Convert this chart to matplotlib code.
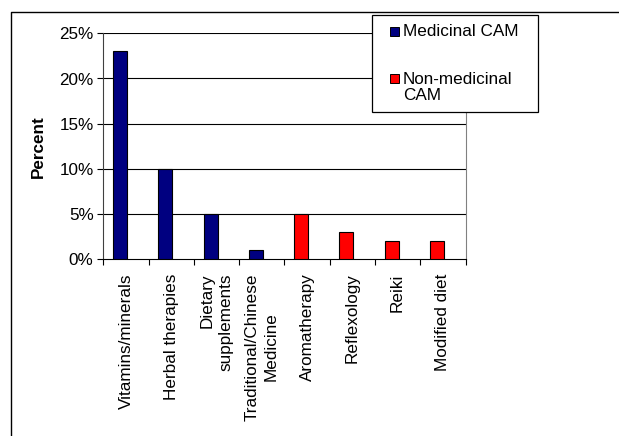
import matplotlib
matplotlib.use("Agg")
import matplotlib.pyplot as plt
from matplotlib.patches import Rectangle
from matplotlib.lines import Line2D
import numpy as np

categories = ["Vitamins/minerals", "Herbal therapies", "Dietary\nsupplements",
              "Traditional/Chinese\nMedicine", "Aromatherapy", "Reflexology",
              "Reiki", "Modified diet"]
values = [23, 10, 5, 1, 5, 3, 2, 2]
groups = ["Medicinal CAM", "Medicinal CAM", "Medicinal CAM", "Medicinal CAM",
          "Non-medicinal CAM", "Non-medicinal CAM", "Non-medicinal CAM", "Non-medicinal CAM"]
legend_labels = ["Medicinal CAM", "Non-medicinal\nCAM"]
group_keys = ["Medicinal CAM", "Non-medicinal CAM"]
colors = {"Medicinal CAM": "#000080", "Non-medicinal CAM": "#FF0000"}
yticks = [0, 5, 10, 15, 20, 25]
ytick_labels = ["0%", "5%", "10%", "15%", "20%", "25%"]

W, H = 619, 436
FS = 12.3
plt.rcParams['font.family'] = ['Liberation Sans', 'DejaVu Sans']
fig = plt.figure(figsize=(W / 100, H / 100), dpi=100)

def fx(px):
    return px / W

def fy(py):
    return 1 - py / H

ax = fig.add_axes([fx(103.3), fy(259.3), fx(465.5) - fx(103.3), fy(33.3) - fy(259.3)])

x = np.arange(len(categories))
ax.bar(x - 0.13, values, width=0.31, color=[colors[g] for g in groups],
       edgecolor="black", linewidth=0.8, zorder=3)

ax.set_xlim(-0.5, len(categories) - 0.5)
ax.set_ylim(0, 25)
ax.set_yticks(yticks)
ax.set_yticklabels(ytick_labels, fontsize=FS)
for yv in yticks[1:]:
    ax.axhline(yv, color="black", linewidth=0.8, zorder=1)

ax.set_xticks(x)
ax.set_xticklabels(categories, rotation=90, fontsize=FS, va="top", ha="center")
ax.tick_params(axis="x", which="major", length=0, pad=10)
ax.set_xticks(np.arange(-0.5, len(categories), 1.0), minor=True)
ax.tick_params(axis="x", which="minor", length=4, width=0.8, direction="out", color="black")
ax.tick_params(axis="y", length=4, width=0.8, direction="out", pad=3)

for lbl in ax.get_xticklabels():
    if lbl.get_text().startswith("Dietary"):
        lbl.set_multialignment("right")
    else:
        lbl.set_multialignment("center")
    lbl.set_linespacing(1.3)

ax.spines["top"].set_visible(False)
ax.spines["right"].set_color("#808080")
ax.spines["right"].set_linewidth(0.8)
ax.spines["left"].set_color("#404040")
ax.spines["left"].set_linewidth(0.8)
ax.spines["bottom"].set_linewidth(0.8)

ax.set_ylabel("Percent", fontsize=FS, fontweight="bold", labelpad=10)

# outer border
fig.add_artist(Line2D([fx(10.5), fx(10.5), fx(619)], [fy(440), fy(12), fy(12)],
                      transform=fig.transFigure, color="black", linewidth=1.0))

# legend box
fig.add_artist(Rectangle((fx(371.7), fy(111.7)), fx(538) - fx(371.7), fy(15) - fy(111.7),
                         transform=fig.transFigure, facecolor="white", edgecolor="black",
                         linewidth=0.9, zorder=5))
marker_y = [31.5, 79.0]
text_y = [31.5, 87.5]
for key, lab, my, ty in zip(group_keys, legend_labels, marker_y, text_y):
    fig.add_artist(Rectangle((fx(390), fy(my + 4.5)), fx(9), 9 / H,
                             transform=fig.transFigure, facecolor=colors[key],
                             edgecolor="black", linewidth=0.7, zorder=6))
    fig.text(fx(403), fy(ty), lab, fontsize=FS, va="center", ha="left",
             linespacing=1.15, zorder=6)

fig.savefig("out.png", dpi=100)
